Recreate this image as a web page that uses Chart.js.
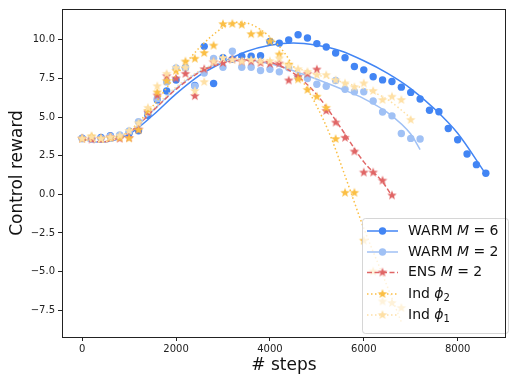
<!DOCTYPE html>
<html>
<head>
<meta charset="utf-8">
<script src="https://cdn.jsdelivr.net/npm/chart.js@4.4.1/dist/chart.umd.min.js"></script>
<style>
  html, body { margin: 0; padding: 0; background: #fff; }
</style>
</head>
<body>
<canvas id="myChart" width="510" height="378"></canvas>
<script>
// checkpoints every 200 steps
const checkpointSteps = [0, 200, 400, 600, 800, 1000, 1200, 1400, 1600, 1800, 2000, 2200, 2400, 2600, 2800,
    3000, 3200, 3400, 3600, 3800, 4000, 4200, 4400, 4600, 4800, 5000, 5200, 5400, 5600, 5800, 6000, 6200,
    6400, 6600, 6800, 7000, 7200, 7400, 7600, 7800, 8000, 8200, 8400, 8600];

// measured rewards (markers)
const warm6Reward = [3.64, 3.6, 3.68, 3.79, 3.8, 3.95, 4.11, 5.12, 6.1, 6.69, 7.4, 8.2, 7.05, 9.58, 7.18,
    8.85, 8.75, 8.94, 8.94, 8.98, 9.9, 9.79, 9.99, 10.33, 10.12, 9.76, 9.54, 9.15, 8.85, 8.28, 8.06, 7.61,
    7.41, 7.31, 6.94, 6.6, 6.17, 5.44, 5.35, 4.26, 3.53, 2.61, 1.92, 1.36];
const warm2Reward = [3.6, 3.6, 3.62, 3.75, 3.85, 4.1, 4.7, 5.29, 6.2, 7.28, 8.19, 8.19, 7.0, 7.86, 8.8,
    8.23, 9.26, 8.23, 8.23, 8.02, 8.1, 7.93, 8.19, 7.6, 7.5, 7.13, 7.0, 7.37, 6.8, 6.64, 6.64, 6.04,
    5.33, 5.08, 3.94, 3.62, 3.58];
const ensReward = [3.6, 3.55, 3.6, 3.7, 3.6, 3.65, 4.2, 5.3, 6.4, 7.65, 7.5, 7.8, 6.36, 8.1, 8.55,
    8.5, 8.73, 8.6, 8.6, 8.5, 8.45, 8.47, 7.37, 7.6, 7.8, 8.08, 5.4, 4.65, 3.66, 2.77, 1.41, 1.41,
    0.89, -0.07];
const indPhi2Reward = [3.6, 3.75, 3.6, 3.65, 3.65, 3.62, 4.16, 5.4, 6.6, 7.33, 8.0, 8.6, 8.78, 9.15, 9.63,
    11.02, 11.04, 10.98, 10.37, 10.4, 9.9, 9.05, 8.4, 7.44, 6.76, 6.32, 5.6, 3.58, 0.1, 0.1, -3.0, -5.0,
    -6.94, -7.04, -7.36];
const indPhi1Reward = [3.6, 3.7, 3.6, 3.7, 3.8, 4.1, 4.6, 5.6, 7.0, 7.8, 8.19, 8.2, 6.69, 7.27, 8.6,
    8.83, 8.7, 8.6, 8.7, 8.6, 8.62, 8.8, 8.3, 8.1, 7.93, 7.72, 7.72, 7.39, 7.18, 6.94, 7.18, 6.69,
    6.11, 6.32, 6.11, 4.82];

// fitted trend curves
const warm6FitSteps = [0, 400, 1000, 1500, 2000, 2500, 3000, 3500, 4000, 4500, 5000, 5500, 6000, 6500, 7000, 7500, 8000, 8600];
const warm6Fit = [3.55, 3.38, 3.9, 5.1, 6.5, 7.7, 8.55, 9.25, 9.65, 9.8, 9.65, 9.3, 8.65, 7.85, 6.85, 5.55, 3.95, 1.3];
const warm2FitSteps = [0, 400, 1000, 1500, 2000, 2500, 3000, 3500, 4000, 4500, 5000, 5500, 6000, 6500, 7000, 7200];
const warm2Fit = [3.55, 3.38, 4.0, 5.4, 6.85, 7.95, 8.55, 8.7, 8.45, 8.0, 7.45, 6.85, 6.2, 5.3, 3.9, 2.9];
const ensFitSteps = [0, 400, 1000, 1500, 2000, 2500, 3000, 3500, 4000, 4500, 5000, 5500, 6000, 6400, 6600];
const ensFit = [3.55, 3.4, 4.0, 5.4, 6.8, 7.9, 8.5, 8.7, 8.55, 7.85, 6.45, 4.35, 2.1, 0.8, -0.1];
const indPhi2FitSteps = [0, 400, 1000, 1500, 2000, 2500, 3000, 3300, 3600, 4000, 4300, 4600, 5000, 5300, 5600, 6000, 6400, 6800];
const indPhi2Fit = [3.55, 3.4, 4.1, 5.7, 7.7, 9.5, 10.8, 11.15, 11.0, 10.2, 9.2, 7.8, 5.7, 3.7, 1.2, -2.2, -5.2, -8.27];
const indPhi1FitSteps = [0, 400, 1000, 1500, 2000, 2500, 3000, 3500, 4000, 4500, 5000, 5500, 6000, 6500, 7000];
const indPhi1Fit = [3.55, 3.4, 4.05, 5.5, 6.95, 8.0, 8.6, 8.8, 8.7, 8.25, 7.75, 7.3, 6.85, 6.15, 4.95];

const xTickValues = [0, 2000, 4000, 6000, 8000];
const yTickValues = [-7.5, -5.0, -2.5, 0.0, 2.5, 5.0, 7.5, 10.0];

const FONT = "'DejaVu Sans', sans-serif";

function makeStar(color, r) {
    const c = document.createElement('canvas');
    const s = Math.ceil(r * 2 + 2);
    c.width = s; c.height = s;
    const g = c.getContext('2d');
    g.beginPath();
    for (let i = 0; i < 10; i++) {
        const rad = i % 2 ? r * 0.42 : r;
        const a = -Math.PI / 2 + i * Math.PI / 5;
        g.lineTo(s / 2 + rad * Math.cos(a), s / 2 + rad * Math.sin(a));
    }
    g.closePath();
    g.fillStyle = color;
    g.fill();
    return c;
}

const series = [
    { name: [['WARM ', ''], ['M', 'italic'], [' = 6', '']], color: '#4285f4', steps: checkpointSteps, values: warm6Reward,
      fitSteps: warm6FitSteps, fit: warm6Fit, dash: [], marker: 'circle', order: 5 },
    { name: [['WARM ', ''], ['M', 'italic'], [' = 2', '']], color: '#a0c1f5', steps: checkpointSteps, values: warm2Reward,
      fitSteps: warm2FitSteps, fit: warm2Fit, dash: [], marker: 'circle', order: 4 },
    { name: [['ENS ', ''], ['M', 'italic'], [' = 2', '']], color: '#e06666', steps: checkpointSteps, values: ensReward,
      fitSteps: ensFitSteps, fit: ensFit, dash: [5, 2.5], marker: 'star', order: 3 },
    { name: [['Ind ', ''], ['\u03d5', 'italic'], ['2', 'sub']], color: '#fbbf45', steps: checkpointSteps, values: indPhi2Reward,
      fitSteps: indPhi2FitSteps, fit: indPhi2Fit, dash: [1.5, 2.5], marker: 'star', order: 2 },
    { name: [['Ind ', ''], ['\u03d5', 'italic'], ['1', 'sub']], color: '#fee0a6', steps: checkpointSteps, values: indPhi1Reward,
      fitSteps: indPhi1FitSteps, fit: indPhi1Fit, dash: [1.5, 2.5], marker: 'star', order: 1 },
];

series.forEach(s => {
    s.pointStyle = s.marker === 'star' ? makeStar(s.color, 5) : 'circle';
});

const datasets = [];
series.forEach(s => {
    datasets.push({
        type: 'line',
        data: s.fitSteps.map((x, i) => ({ x: x, y: s.fit[i] })),
        borderColor: s.color,
        borderWidth: 1.5,
        borderDash: s.dash,
        pointRadius: 0,
        fill: false,
        cubicInterpolationMode: 'monotone',
        order: s.order,
    });
    datasets.push({
        type: 'scatter',
        data: s.values.map((y, i) => ({ x: s.steps[i], y: y })),
        backgroundColor: s.color,
        borderWidth: 0,
        pointRadius: 3.7,
        pointStyle: s.pointStyle,
        order: s.order,
    });
});

const legendBox = {
    id: 'legendBox',
    afterDatasetsDraw(chart) {
        const ctx = chart.ctx;
        const x0 = 362, y0 = 218, w = 146, h = 115;
        ctx.save();
        ctx.beginPath();
        ctx.roundRect(x0 + 0.5, y0 + 0.5, w, h, 3);
        ctx.fillStyle = 'rgba(255,255,255,0.8)';
        ctx.fill();
        ctx.strokeStyle = 'rgba(204,204,204,0.8)';
        ctx.lineWidth = 1;
        ctx.stroke();
        const rows = [231, 252, 272.5, 294, 315];
        series.forEach((s, i) => {
            const y = rows[i];
            ctx.beginPath();
            ctx.setLineDash(s.dash);
            ctx.strokeStyle = s.color;
            ctx.lineWidth = 1.5;
            ctx.moveTo(367, y);
            ctx.lineTo(398, y);
            ctx.stroke();
            ctx.setLineDash([]);
            if (s.marker === 'star') {
                ctx.drawImage(s.pointStyle, 382.5 - s.pointStyle.width / 2, y - s.pointStyle.height / 2);
            } else {
                ctx.beginPath();
                ctx.arc(382.5, y, 3.7, 0, Math.PI * 2);
                ctx.fillStyle = s.color;
                ctx.fill();
            }
            let x = 408;
            ctx.fillStyle = '#111';
            ctx.textBaseline = 'middle';
            s.name.forEach(([t, st]) => {
                let dy = 0;
                if (st === 'italic') ctx.font = 'italic 14px ' + FONT;
                else if (st === 'sub') { ctx.font = '10px ' + FONT; dy = 4; }
                else ctx.font = '14px ' + FONT;
                ctx.fillText(t, x, y + dy);
                x += ctx.measureText(t).width;
            });
        });
        ctx.restore();
    },
    afterDraw(chart) {
        const a = chart.chartArea;
        const ctx = chart.ctx;
        ctx.save();
        ctx.strokeStyle = '#222';
        ctx.lineWidth = 1;
        ctx.strokeRect(Math.round(a.left) + 0.5, Math.round(a.top) + 0.5,
            Math.round(a.right - a.left) - 1, Math.round(a.bottom - a.top));
        ctx.restore();
    }
};

const ctx = document.getElementById('myChart').getContext('2d');
const myChart = new Chart(ctx, {
    data: { datasets: datasets },
    plugins: [legendBox],
    options: {
        responsive: false,
        animation: false,
        devicePixelRatio: 1,
        layout: { padding: { top: 7, right: 1, left: 0, bottom: 0 } },
        plugins: { legend: { display: false }, tooltip: { enabled: false } },
        scales: {
            x: {
                type: 'linear',
                min: -430,
                max: 9030,
                afterFit: scale => { scale.height = 41; },
                afterBuildTicks: scale => { scale.ticks = xTickValues.map(v => ({ value: v })); },
                ticks: {
                    font: { family: FONT, size: 10 },
                    color: '#222',
                    padding: 2,
                    maxRotation: 0,
                    callback: v => String(v),
                },
                grid: { display: true, drawOnChartArea: false, drawTicks: true, tickLength: 4, color: '#222' },
                border: { display: false },
                title: {
                    display: true,
                    text: '# steps',
                    font: { family: FONT, size: 17 },
                    color: '#111',
                    padding: { top: 0, bottom: 2 },
                },
            },
            y: {
                type: 'linear',
                min: -9.24,
                max: 12.0,
                afterFit: scale => { scale.width = 62; },
                afterBuildTicks: scale => { scale.ticks = yTickValues.map(v => ({ value: v })); },
                ticks: {
                    font: { family: FONT, size: 10 },
                    color: '#222',
                    padding: 3,
                    callback: v => v.toFixed(1).replace('-', '\u2212'),
                },
                grid: { display: true, drawOnChartArea: false, drawTicks: true, tickLength: 4, color: '#222' },
                border: { display: false },
                title: {
                    display: true,
                    text: 'Control reward',
                    font: { family: FONT, size: 17 },
                    color: '#111',
                    padding: { top: 7, bottom: 0 },
                },
            },
        },
    },
});
</script>
</body>
</html>
